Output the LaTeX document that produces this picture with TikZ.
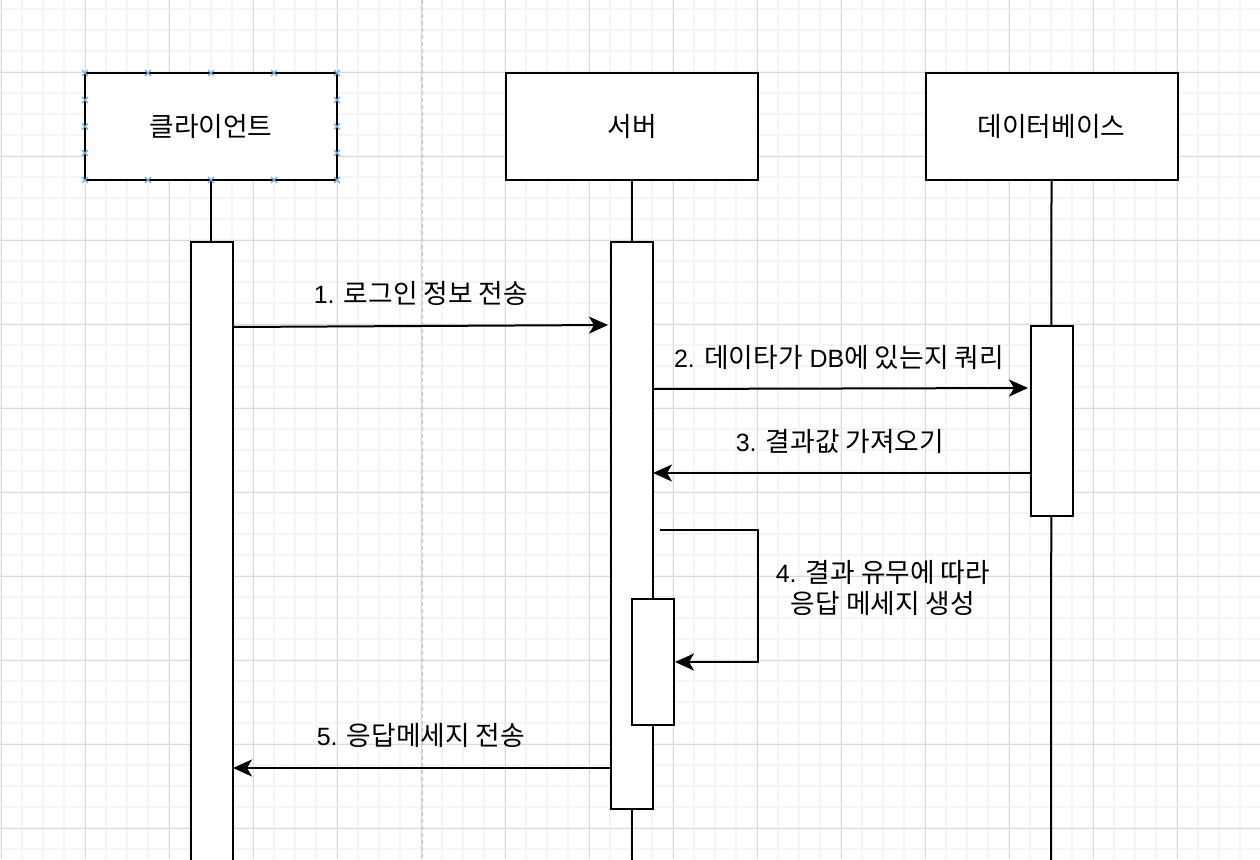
\documentclass[tikz,border=0pt]{standalone}
\usepackage{fontspec}
\setmainfont{Liberation Sans}
\newfontfamily\kr[Scale=1.07]{Noto Sans CJK KR}
\usetikzlibrary{arrows.meta}
\definecolor{gmin}{RGB}{245,245,245}
\definecolor{gmaj}{RGB}{218,218,218}
\definecolor{pageln}{RGB}{195,195,195}
\definecolor{handle}{RGB}{110,170,225}
\newcommand\K[1]{{\kr #1}}
\begin{document}
\begin{tikzpicture}[x=1pt,y=-1pt,
  every node/.style={font=\fontsize{25}{31}\selectfont},
  lbox/.style={draw, line width=2pt, fill=white, minimum width=252pt, minimum height=107pt, inner sep=0pt},
  act/.style={draw, line width=2pt, fill=white, minimum width=42pt, inner sep=0pt},
  life/.style={line width=2pt},
  msg/.style={line width=2pt, -{Stealth[length=19pt,width=17pt,inset=5pt]}},
  lbl/.style={inner sep=0pt, align=center},
  hmark/.style={draw=handle, line width=1.3pt}]
\useasboundingbox (0,0) rectangle (1260,859);
\clip (0,0) rectangle (1260,859);
\fill[white] (0,0) rectangle (1260,859);
% grid
\foreach \x in {1,22,...,1260} \draw[gmin, line width=1.3pt] (\x,0) -- (\x,859);
\foreach \y in {9,30,...,859} \draw[gmin, line width=1.3pt] (0,\y) -- (1260,\y);
\foreach \x in {1,85,...,1260} \draw[gmaj, line width=1pt] (\x,0) -- (\x,859);
\foreach \y in {72,156,...,859} \draw[gmaj, line width=1pt] (0,\y) -- (1260,\y);
\draw[pageln, line width=1pt, dash pattern=on 4pt off 3pt] (422,0) -- (422,859);
% header boxes
\node[lbox] (cl) at (211,126.5) {\K{클라이언트}};
\node[lbox] (sv) at (632,126.5) {\K{서버}};
\node[lbox] (db) at (1051.5,126.5) {\K{데이터베이스}};
% lifelines
\coordinate (cend) at (211,880);
\coordinate (send) at (632,880);
\coordinate (dend) at (1051,880);
\draw[life] (cl.south) -- (cend);
\draw[life] (sv.south) -- (send);
\draw[life] (db.south) -- (dend);
% activations
\node[act, minimum height=640pt] (ca) at (212,562) {};
\node[act, minimum height=567pt] (sa) at (632,525.5) {};
\node[act, minimum height=190pt] (da) at (1052,421) {};
\node[act, minimum height=126pt] (na) at (653,662) {};
% messages
\coordinate (m1a) at (233,327); \coordinate (m1b) at (608,325);
\coordinate (m2a) at (653,389); \coordinate (m2b) at (1028,388);
\coordinate (m3a) at (1031,473); \coordinate (m3b) at (653,473);
\coordinate (m4a) at (660,530); \coordinate (m4b) at (758,530);
\coordinate (m5a) at (611,768); \coordinate (m5b) at (233,768);
\draw[msg] (m1a) -- (m1b);
\draw[msg] (m2a) -- (m2b);
\draw[msg] (m3a) -- (m3b);
\draw[msg] (m4a) -- (m4b) |- (na.east);
\draw[msg] (m5a) -- (m5b);
% labels
\node[lbl] (t1) at (421,293) {1. \K{로그인 정보 전송}};
\node[lbl] (t2) at (839,357) {2. \K{데이타가} DB\K{에 있는지 쿼리}};
\node[lbl] (t3) at (840,441) {3. \K{결과값 가져오기}};
\node[lbl] (t4) at (883,587.5) {4. \K{결과 유무에 따라}\\\K{응답 메세지 생성}};
\node[lbl] (t5) at (421,735) {5. \K{응답메세지 전송}};
% selection handles
\foreach \x in {85,148,211,274,337} \foreach \y in {73,180}
  {\draw[hmark] (\x-3,\y-3) -- (\x+3,\y+3) (\x-3,\y+3) -- (\x+3,\y-3);}
\foreach \x in {85,337} \foreach \y in {100,126.5,153}
  {\draw[hmark] (\x-3,\y-3) -- (\x+3,\y+3) (\x-3,\y+3) -- (\x+3,\y-3);}
\end{tikzpicture}
\end{document}
